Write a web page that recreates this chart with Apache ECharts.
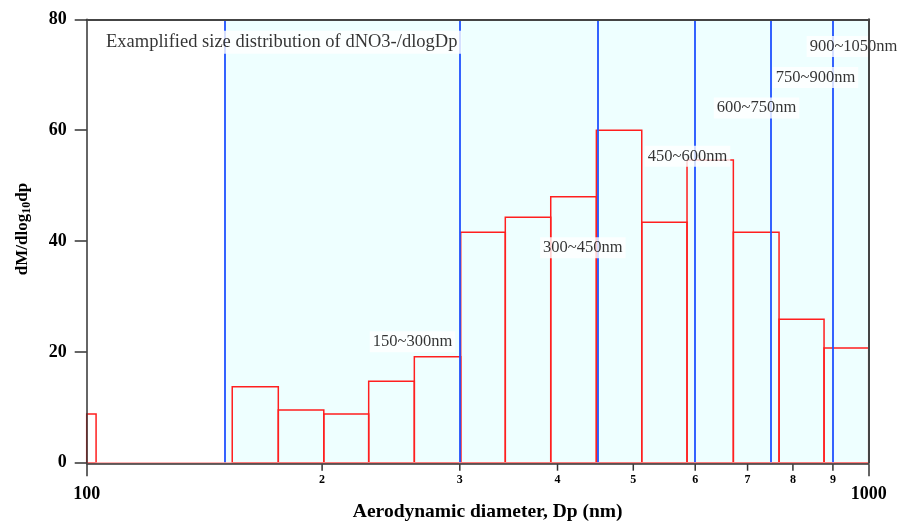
<!DOCTYPE html>
<html lang="en">
<head>
<meta charset="UTF-8">
<title>dNO3-/dlogDp</title>
<script src="https://cdn.jsdelivr.net/npm/echarts@6/dist/echarts.min.js"></script>
</head>
<body style="margin:0">
<div id="main" style="width:899px;height:526px;"></div>
<script>
// bin edges (nm) and dM/dlogDp of each bin
var binLeft = [100, 153.5, 175.8, 201.0, 229.4, 262.4, 300.8, 343.0, 392.1, 448.5, 512.6, 585.7, 671.3, 768.0, 876.8];
var binRight = [102.8, 175.8, 201.0, 229.4, 262.4, 300.8, 343.0, 392.1, 448.5, 512.6, 585.7, 671.3, 768.0, 876.8, 1000];
var dMdlogDp = [8.8, 13.7, 9.5, 8.8, 14.7, 19.1, 41.6, 44.3, 48.0, 60.0, 43.4, 54.6, 41.6, 25.9, 20.7];

// size range cut lines and their labels
var cutLines = [150, 300, 450, 600, 750, 900];
var rangeNames = ['150~300nm', '300~450nm', '450~600nm', '600~750nm', '750~900nm', '900~1050nm'];
var rangeX = [261, 431, 586.6, 718.7, 855, 956.3];
var rangeY = [21.8, 38.8, 55.3, 64.0, 69.5, 75.1];

var noteText = 'Examplified size distribution of dNO3-/dlogDp';
var noteX = 104.6, noteY = 75.85;

var minorTicks = [200, 300, 400, 500, 600, 700, 800, 900];
var minorLabels = ['2', '3', '4', '5', '6', '7', '8', '9'];

var serif = '"Liberation Serif", "Times New Roman", serif';
var myChart = echarts.init(document.getElementById('main'));

var bars = binLeft.map(function (l, i) { return [l, binRight[i], dMdlogDp[i]]; });
var labels = rangeX.map(function (x, i) { return [x, rangeY[i], rangeNames[i]]; });

myChart.setOption({
  animation: false,
  grid: { left: 86.7, right: 30.3, top: 19.3, bottom: 63.3, containLabel: false, outerBoundsMode: 'none' },
  xAxis: [{
    type: 'log', logBase: 10, min: 100, max: 1000, z: 10, offset: 1.5,
    name: 'Aerodynamic diameter, Dp (nm)', nameLocation: 'middle', nameGap: 38, nameMoveOverlap: false,
    nameTextStyle: { fontFamily: serif, fontSize: 19.5, fontWeight: 'bold', color: '#000', padding: [0, 0, 0, 20] },
    axisLine: { onZero: false, lineStyle: { color: '#333', width: 1.5 } },
    axisTick: { length: 12, lineStyle: { color: '#333', width: 1.5 } },
    axisLabel: { margin: 21, fontFamily: serif, fontSize: 18, fontWeight: 'bold', color: '#000',
      formatter: function (v) { return String(Math.round(v)); } },
    splitLine: { show: false }
  }, {
    type: 'log', logBase: 10, min: 100, max: 1000, position: 'top', z: 10,
    axisLine: { show: true, onZero: false, lineStyle: { color: '#444', width: 2 } },
    axisTick: { show: false }, axisLabel: { show: false }, splitLine: { show: false }
  }],
  yAxis: [{
    type: 'value', min: 0, max: 80, interval: 20, z: 10,
    name: '{a|dM/dlog}{b|10}{a|dp}', nameLocation: 'middle', nameGap: 54, nameRotate: 90,
    nameTextStyle: {
      padding: [0, 0, 0, 24],
      rich: {
        a: { fontFamily: serif, fontSize: 17, fontWeight: 'bold', color: '#000', lineHeight: 20 },
        b: { fontFamily: serif, fontSize: 12, fontWeight: 'bold', color: '#000', lineHeight: 20, verticalAlign: 'bottom', padding: [8, 0, 0, 0] }
      }
    },
    axisLine: { show: true, onZero: false, lineStyle: { color: '#333', width: 1.5 } },
    axisTick: { show: true, length: 12, lineStyle: { color: '#333', width: 1.5 } },
    axisLabel: { margin: 20, fontFamily: serif, fontSize: 18, fontWeight: 'bold', color: '#000' },
    splitLine: { show: false }
  }, {
    type: 'value', min: 0, max: 80, interval: 20, position: 'right', z: 10,
    axisLine: { show: true, onZero: false, lineStyle: { color: '#444', width: 2 } },
    axisTick: { show: false }, axisLabel: { show: false }, splitLine: { show: false }
  }],
  series: [
    {
      // background shading + cut lines
      type: 'custom', z: 1, silent: true,
      renderItem: function () { return null; },
      data: [[150, 0]],
      markArea: { silent: true, itemStyle: { color: '#eeffff' }, data: [[{ xAxis: 150 }, { xAxis: 1000 }]] },
      markLine: {
        silent: true, symbol: 'none', label: { show: false },
        lineStyle: { color: '#1f52ff', width: 1.8, type: 'solid' },
        data: cutLines.map(function (v) { return { xAxis: v }; })
      }
    },
    {
      type: 'custom', z: 3,
      encode: { x: [0, 1], y: 2 },
      renderItem: function (params, api) {
        var p0 = api.coord([api.value(0), api.value(2)]);
        var p1 = api.coord([api.value(1), 0]);
        return {
          type: 'rect',
          shape: { x: p0[0], y: p0[1], width: p1[0] - p0[0], height: p1[1] - p0[1] },
          style: { fill: 'none', stroke: '#ff1f1f', lineWidth: 1.5 }
        };
      },
      data: bars,
      markLine: {
        silent: true, symbol: 'none', label: { show: false },
        lineStyle: { color: '#ff9a9a', width: 1.5, type: 'solid' },
        data: [{ yAxis: 0 }]
      }
    },
    {
      // minor ticks and labels 2..9
      type: 'custom', z: 4, silent: true,
      renderItem: function (params, api) {
        var p = api.coord([api.value(0), 0]);
        return {
          type: 'group',
          children: [
            { type: 'line', shape: { x1: p[0], y1: p[1] + 1.5, x2: p[0], y2: p[1] + 8 }, style: { stroke: '#333', lineWidth: 1.5 } },
            { type: 'text', x: p[0], y: p[1] + 17,
              style: { text: minorLabels[params.dataIndex], fill: '#000', font: 'bold 12px ' + serif, align: 'center', verticalAlign: 'middle' } }
          ]
        };
      },
      data: minorTicks.map(function (v) { return [v, 0]; })
    },
    {
      type: 'scatter', z: 5, symbolSize: 0, silent: true,
      label: {
        show: true, position: 'inside', formatter: function (p) { return p.data[2]; },
        fontFamily: serif, fontSize: 16.5, color: '#000', backgroundColor: '#fff', padding: [2, 3]
      },
      data: labels
    },
    {
      type: 'scatter', z: 5, symbolSize: 0, silent: true,
      label: {
        show: true, position: 'inside', align: 'left', formatter: function (p) { return p.data[2]; },
        fontFamily: serif, fontSize: 18.5, color: '#000', backgroundColor: '#fff', padding: [2, 4]
      },
      data: [[noteX, noteY, noteText]]
    }
  ]
});
</script>
</body>
</html>
